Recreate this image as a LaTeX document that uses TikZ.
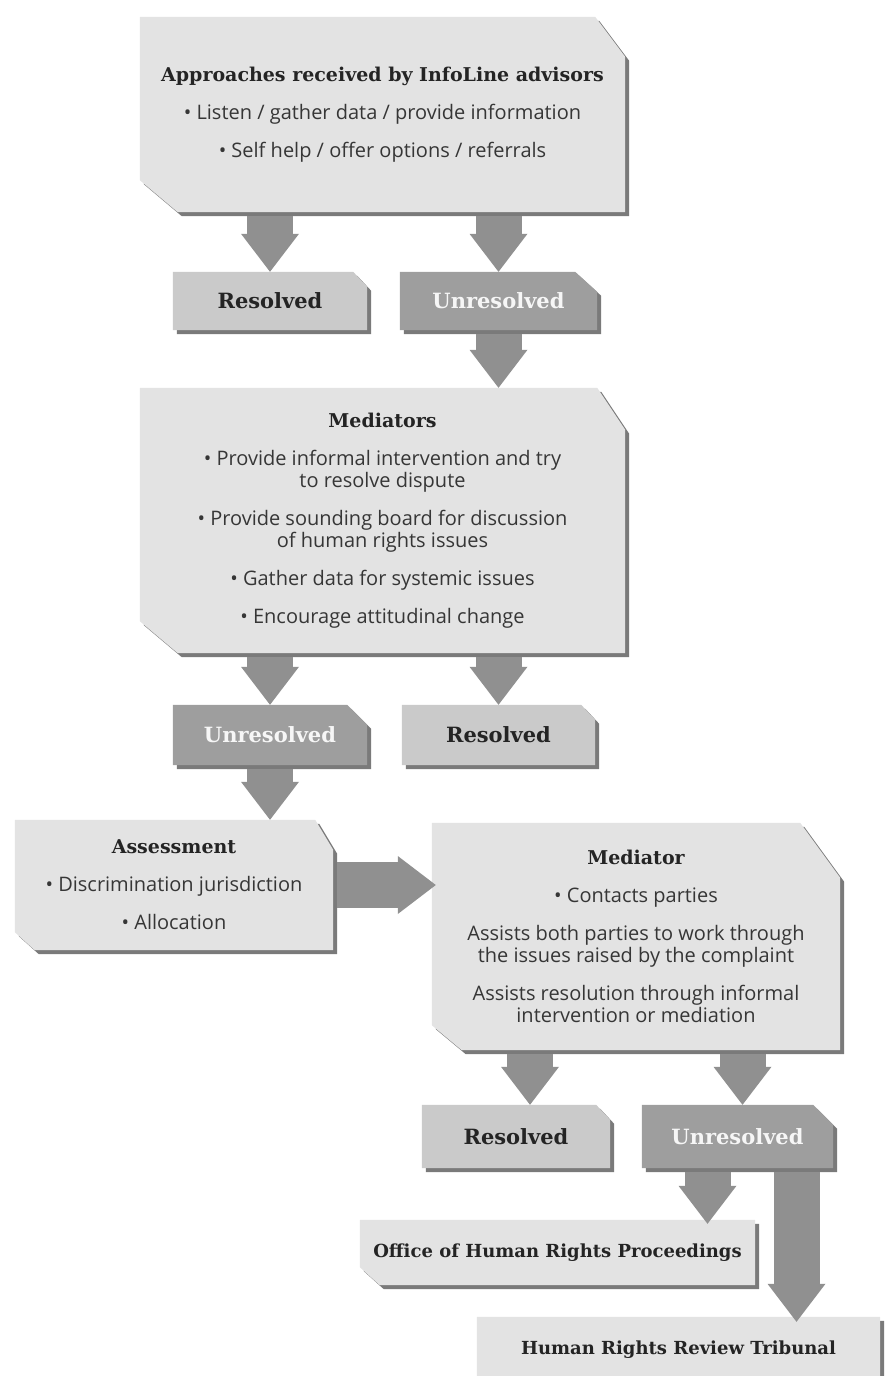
\documentclass[tikz,border=0pt]{standalone}
\usepackage{fontspec}
\setmainfont{Open Sans}
\newfontfamily\headf{DejaVu Serif}
\usetikzlibrary{arrows.meta,backgrounds,calc}
\definecolor{boxc}{HTML}{E3E3E3}
\definecolor{resc}{HTML}{CACACA}
\definecolor{unrc}{HTML}{9E9E9E}
\definecolor{shadc}{HTML}{7A7A7A}
\definecolor{arrc}{HTML}{909090}
\definecolor{txtc}{HTML}{363636}
\definecolor{headc}{HTML}{242424}
\definecolor{unrtxt}{HTML}{F6F6F6}
\newcommand\chbox[6]{%
 \fill[shadc] ([shift={(4pt,-4pt)}]#1.north west) -- ([shift={(4pt-#3,-4pt)}]#1.north east) -- ([shift={(4pt,-4pt-#4)}]#1.north east) -- ([shift={(4pt,-4pt)}]#1.south east) -- ([shift={(4pt+#5,-4pt)}]#1.south west) -- ([shift={(4pt,-4pt+#6)}]#1.south west) -- cycle;
 \fill[#2] (#1.north west) -- ([xshift=-#3]#1.north east) -- ([yshift=-#4]#1.north east) -- (#1.south east) -- ([xshift=#5]#1.south west) -- ([yshift=#6]#1.south west) -- cycle;}
\tikzset{
 bigbox/.style={rectangle, inner sep=0pt, align=center, text=txtc, font=\fontsize{20}{22}\selectfont},
 smallbox/.style={rectangle, inner sep=0pt, align=center, font=\headf\bfseries\fontsize{21}{24}\selectfont},
 resbox/.style={smallbox, text=headc},
 unrbox/.style={smallbox, text=unrtxt},
 endbox/.style={resbox, font=\headf\bfseries\fontsize{18}{21}\selectfont},
 blockarrow/.style={draw=arrc, line width=46pt, -{Triangle[length=38pt,width=58pt,line width=0pt]}}
}
\newcommand\hdr[1]{{\headf\bfseries\color{headc}\fontsize{19}{22}\selectfont #1}}
\begin{document}
\begin{tikzpicture}[x=1pt,y=-1pt]
\useasboundingbox (0,0) rectangle (891,1376);
% nodes
\node[bigbox, minimum width=485pt, minimum height=195pt] (top) at (382.5,114.5)
 {\hdr{Approaches received by InfoLine advisors}\\[16pt]
  • Listen / gather data / provide information\\[16pt]
  • Self help / offer options / referrals};
\node[resbox, minimum width=194pt, minimum height=58pt] (res1) at (270,301) {Resolved};
\node[unrbox, minimum width=197pt, minimum height=58pt] (unr1) at (498.5,301) {Unresolved};
\node[bigbox, minimum width=485pt, minimum height=265pt] (med) at (382.5,520.5)
 {\hdr{Mediators}\\[16pt]
  • Provide informal intervention and try\\to resolve dispute\\[16pt]
  • Provide sounding board for discussion\\of human rights issues\\[16pt]
  • Gather data for systemic issues\\[16pt]
  • Encourage attitudinal change};
\node[unrbox, minimum width=194pt, minimum height=60pt] (unr2) at (270,735) {Unresolved};
\node[resbox, minimum width=193pt, minimum height=60pt] (res2) at (498.5,735) {Resolved};
\node[bigbox, minimum width=318pt, minimum height=130pt] (ass) at (174,885)
 {\hdr{Assessment}\\[16pt]
  • Discrimination jurisdiction\\[16pt]
  • Allocation};
\node[bigbox, minimum width=408pt, minimum height=227pt] (medr) at (636,936.5)
 {\hdr{Mediator}\\[16pt]
  • Contacts parties\\[16pt]
  Assists both parties to work through\\the issues raised by the complaint\\[16pt]
  Assists resolution through informal\\intervention or mediation};
\node[resbox, minimum width=188pt, minimum height=63pt] (res3) at (516,1136.5) {Resolved};
\node[unrbox, minimum width=191pt, minimum height=63pt] (unr3) at (737.5,1136.5) {Unresolved};
\node[endbox, minimum width=395pt, minimum height=65pt] (off) at (557.5,1252.5) {Office of Human Rights Proceedings};
\node[endbox, minimum width=403pt, minimum height=66pt] (trib) at (678.5,1350) {Human Rights Review Tribunal};
% box fills
\begin{scope}[on background layer]
 \chbox{top}{boxc}{30pt}{40pt}{38pt}{32pt}
 \chbox{res1}{resc}{14pt}{15pt}{0pt}{0pt}
 \chbox{unr1}{unrc}{22pt}{20pt}{0pt}{0pt}
 \chbox{med}{boxc}{28pt}{42pt}{38pt}{32pt}
 \chbox{unr2}{unrc}{20pt}{20pt}{0pt}{0pt}
 \chbox{res2}{resc}{14pt}{15pt}{0pt}{0pt}
 \chbox{ass}{boxc}{18pt}{30pt}{20pt}{18pt}
 \chbox{medr}{boxc}{40pt}{55pt}{30pt}{25pt}
 \chbox{res3}{resc}{14pt}{15pt}{0pt}{0pt}
 \chbox{unr3}{unrc}{20pt}{20pt}{0pt}{0pt}
 \chbox{off}{boxc}{0pt}{0pt}{20pt}{18pt}
 \chbox{trib}{boxc}{0pt}{0pt}{0pt}{0pt}
\end{scope}
% connectors
\draw[blockarrow] ([yshift=-4pt]res1.north |- top.south) -- (res1.north);
\draw[blockarrow] ([yshift=-4pt]unr1.north |- top.south) -- (unr1.north);
\draw[blockarrow] ([yshift=-4pt]unr1.south) -- (unr1.south |- med.north);
\draw[blockarrow] ([yshift=-4pt]unr2.north |- med.south) -- (unr2.north);
\draw[blockarrow] ([yshift=-4pt]res2.north |- med.south) -- (res2.north);
\draw[blockarrow] ([yshift=-4pt]unr2.south) -- (unr2.south |- ass.north);
\draw[blockarrow] ([xshift=4pt]ass.east) -- ([xshift=4pt]medr.west |- ass.east);
\draw[blockarrow] ([xshift=14pt,yshift=-4pt]res3.north |- medr.south) -- ([xshift=14pt]res3.north);
\draw[blockarrow] ([xshift=5pt,yshift=-4pt]unr3.north |- medr.south) -- ([xshift=5pt]unr3.north);
\draw[blockarrow] ([xshift=-30pt,yshift=-4pt]unr3.south) -- ([xshift=-30pt,yshift=-4pt]unr3.south |- off.north);
\draw[blockarrow] ([xshift=59pt,yshift=-4pt]unr3.south) -- ([xshift=59pt,yshift=-5pt]unr3.south |- trib.north);
\end{tikzpicture}
\end{document}
